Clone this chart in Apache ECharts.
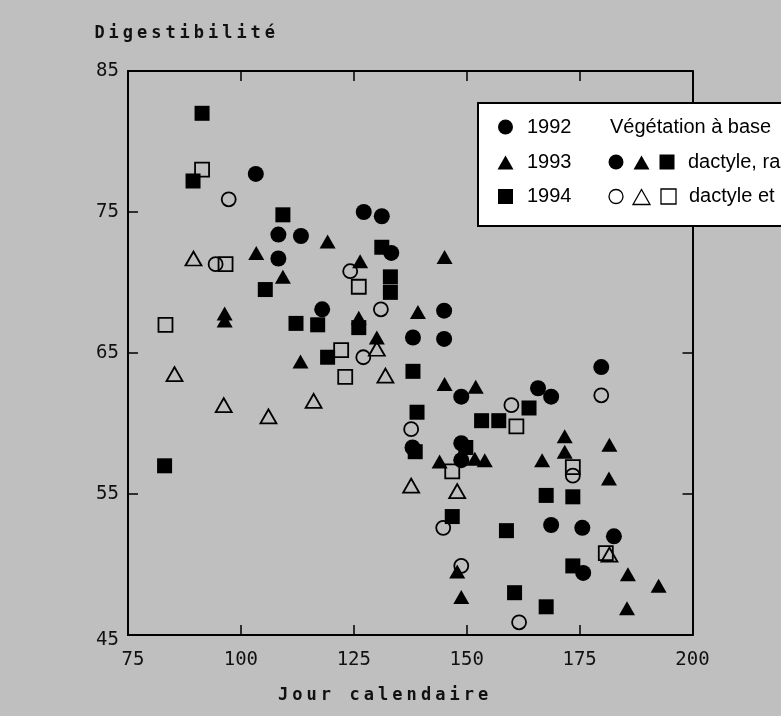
<!DOCTYPE html>
<html><head><meta charset="utf-8">
<script src="https://cdn.jsdelivr.net/npm/echarts@6/dist/echarts.min.js"></script>
<style>html,body{margin:0;padding:0;background:#bfbfbf}#c{width:781px;height:716px}</style>
</head><body><div id="c"></div>
<script>
// ---- tick labels ----
const xTickLabels = [75, 100, 125, 150, 175, 200];
const yTickLabels = [45, 55, 65, 75, 85];
const xInnerTicks = [100, 125, 150, 175];
const yInnerTicks = [55, 65, 75];
const yAxisTitle = 'Digestibilité';
const xAxisTitle = 'Jour calendaire';

// ---- filled symbols (dactyle, ray-grass ...) ----
const day92f = [103.3,127.2,131.2,108.3,113.3,133.3,108.3,118.0,145.0,138.1,145.0,148.8,165.8,168.7,179.8,138.0,148.8,148.8,168.7,175.6,182.6,175.8];
const dig92f = [77.7,75.0,74.7,73.4,73.3,72.1,71.7,68.1,68.0,66.1,66.0,61.9,62.5,61.9,64.0,58.3,58.6,57.4,52.8,52.6,52.0,49.4];
const day93f = [103.4,119.2,126.4,109.3,96.4,96.4,126.1,139.2,130.1,113.2,145.1,145.1,152.0,144.0,151.8,154.0,171.7,171.7,166.7,181.6,181.5,147.9,148.8,185.7,192.5,185.5];
const dig93f = [72.1,72.9,71.5,70.4,67.8,67.3,67.5,67.9,66.1,64.4,71.8,62.8,62.6,57.3,57.5,57.4,59.1,58.0,57.4,58.5,56.1,49.5,47.7,49.3,48.5,46.9];
const day94f = [91.4,89.4,109.3,131.2,133.1,133.1,105.4,112.2,117.0,126.1,119.2,138.1,83.1,139.0,138.6,149.8,153.3,157.1,163.8,167.6,173.5,146.8,158.8,173.5,160.6,167.6];
const dig94f = [82.0,77.2,74.8,72.5,70.4,69.3,69.5,67.1,67.0,66.8,64.7,63.7,57.0,60.8,58.0,58.3,60.2,60.2,61.1,54.9,54.8,53.4,52.4,49.9,48.0,47.0];

// ---- open symbols (dactyle et ...) ----
const day92o = [97.3,94.4,124.2,131.0,127.1,137.7,159.9,179.8,173.5,144.8,148.8,161.6];
const dig92o = [75.9,71.3,70.8,68.1,64.7,59.6,61.3,62.0,56.3,52.6,49.9,45.9];
const day93o = [89.5,130.1,132.0,85.3,96.2,116.1,106.1,137.7,147.9,181.6];
const dig93o = [71.7,65.3,63.4,63.5,61.3,61.6,60.5,55.6,55.2,50.7];
const day94o = [91.4,96.6,126.1,83.3,122.2,123.1,161.0,146.8,173.5,180.8];
const dig94o = [78.0,71.3,69.7,67.0,65.2,63.3,59.8,56.6,56.9,50.8];

// ---- legend texts ----
const legendYears = ['1992', '1993', '1994'];
const legendHeader = 'Végétation à base';
const legendFilled = 'dactyle, ra';
const legendOpen = 'dactyle et';

const pair = (xs, ys) => xs.map((x, i) => [x, ys[i]]);

const chart = echarts.init(document.getElementById('c'), null, {renderer: 'canvas'});
const tickFont = {fontFamily: 'DejaVu Sans Mono', fontSize: 19, color: '#111'};
const axisLineStyle = {color: '#000', width: 2};

function openSeries(name, sym, size, xs, ys) {
  return {name, type: 'scatter', symbol: sym, symbolSize: size, data: pair(xs, ys),
    itemStyle: {color: 'rgba(0,0,0,0)', borderColor: '#000', borderWidth: 1.8, opacity: 1}, z: 3};
}
function fillSeries(name, sym, size, xs, ys) {
  return {name, type: 'scatter', symbol: sym, symbolSize: size, data: pair(xs, ys),
    itemStyle: {color: '#000', opacity: 1}, z: 4};
}

// legend graphics
const g = [];
g.push({type: 'rect', shape: {x: 478, y: 103, width: 340, height: 123},
  style: {fill: '#fff', stroke: '#000', lineWidth: 2}, z: 10});
const rowY = [127, 162, 196.5];
const tri = (cx, cy, w, h) => [[cx, cy - h / 2], [cx - w / 2, cy + h / 2], [cx + w / 2, cy + h / 2]];
function mk(kind, cx, cy, filled) {
  const st = filled ? {fill: '#000'} : {fill: '#fff', stroke: '#000', lineWidth: 1.3};
  if (kind === 0) return {type: 'circle', shape: {cx, cy, r: filled ? 7.5 : 7}, style: st, z: 11};
  if (kind === 1) return {type: 'polygon', shape: {points: tri(cx, cy + 0.5, filled ? 16 : 17, filled ? 14 : 15)}, style: st, z: 11};
  return {type: 'rect', shape: {x: cx - 7.5, y: cy - 7.5, width: 15, height: 15}, style: st, z: 11};
}
const legFont = {fontFamily: 'Liberation Sans, Arial, sans-serif', fontSize: 20, fill: '#000'};
legendYears.forEach((yr, i) => {
  g.push(mk(i, 505.5, rowY[i], true));
  g.push({type: 'text', x: 527, y: rowY[i], style: Object.assign({text: yr, textVerticalAlign: 'middle'}, legFont), z: 11});
});
g.push({type: 'text', x: 610, y: rowY[0], style: Object.assign({text: legendHeader, textVerticalAlign: 'middle'}, legFont), z: 11});
[616, 641.5, 667].forEach((cx, k) => {
  g.push(mk(k, cx, rowY[1], true));
  g.push(mk(k, cx + (k === 2 ? 1.5 : 0), rowY[2], false));
});
g.push({type: 'text', x: 688, y: rowY[1], style: Object.assign({text: legendFilled, textVerticalAlign: 'middle'}, legFont), z: 11});
g.push({type: 'text', x: 689, y: rowY[2], style: Object.assign({text: legendOpen, textVerticalAlign: 'middle'}, legFont), z: 11});

// letter-spaced axis titles
const nameFont = {fontFamily: 'DejaVu Sans Mono', fontSize: 17, fontWeight: 'bold', fill: '#111'};
Array.from(yAxisTitle).forEach((ch, i) => {
  g.push({type: 'text', x: 99.5 + i * 14.2, y: 34, style: Object.assign({text: ch, textAlign: 'center', textVerticalAlign: 'middle'}, nameFont)});
});
Array.from(xAxisTitle).forEach((ch, i) => {
  g.push({type: 'text', x: 283 + i * 14.3, y: 696, style: Object.assign({text: ch, textAlign: 'center', textVerticalAlign: 'middle'}, nameFont)});
});

const option = {
  backgroundColor: '#bfbfbf',
  animation: false,
  grid: {left: 128, right: 88.5, top: 71, bottom: 81},
  xAxis: [
    {type: 'value', min: 75, max: 200, interval: 25, position: 'bottom',
     axisLine: {show: true, lineStyle: axisLineStyle},
     axisTick: {show: true, inside: true, length: 10, lineStyle: {color: '#000', width: 1.5}, customValues: xInnerTicks},
     axisLabel: Object.assign({margin: 16, customValues: xTickLabels,
        formatter: v => v === 75 ? '{a|75}' : String(v),
        rich: {a: Object.assign({padding: [0, 0, 0, 10]}, tickFont)}}, tickFont),
     splitLine: {show: false}},
    {type: 'value', min: 75, max: 200, interval: 25, position: 'top',
     axisLine: {show: true, lineStyle: axisLineStyle},
     axisTick: {show: true, inside: true, length: 10, lineStyle: {color: '#000', width: 1.5}, customValues: xInnerTicks},
     axisLabel: {show: false}, splitLine: {show: false}}
  ],
  yAxis: [
    {type: 'value', min: 45, max: 85, position: 'left',
     axisLine: {show: true, lineStyle: axisLineStyle},
     axisTick: {show: true, inside: true, length: 10, lineStyle: {color: '#000', width: 1.5}, customValues: yInnerTicks},
     axisLabel: Object.assign({margin: 9, customValues: yTickLabels,
        formatter: v => v === 45 ? '{a|45}' : String(v),
        rich: {a: Object.assign({padding: [10, 0, 0, 0]}, tickFont)}}, tickFont),
     splitLine: {show: false}},
    {type: 'value', min: 45, max: 85, position: 'right',
     axisLine: {show: true, lineStyle: axisLineStyle},
     axisTick: {show: true, inside: true, length: 10, lineStyle: {color: '#000', width: 1.5}, customValues: yInnerTicks},
     axisLabel: {show: false}, splitLine: {show: false}}
  ],
  series: [
    openSeries('1992 ○', 'circle', 14, day92o, dig92o),
    openSeries('1993 △', 'triangle', [16, 14], day93o, dig93o),
    openSeries('1994 □', 'rect', 14, day94o, dig94o),
    fillSeries('1992', 'circle', 16, day92f, dig92f),
    fillSeries('1993', 'triangle', [16, 14], day93f, dig93f),
    fillSeries('1994', 'rect', 15, day94f, dig94f)
  ],
  graphic: g
};
chart.setOption(option);
</script>
</body></html>
